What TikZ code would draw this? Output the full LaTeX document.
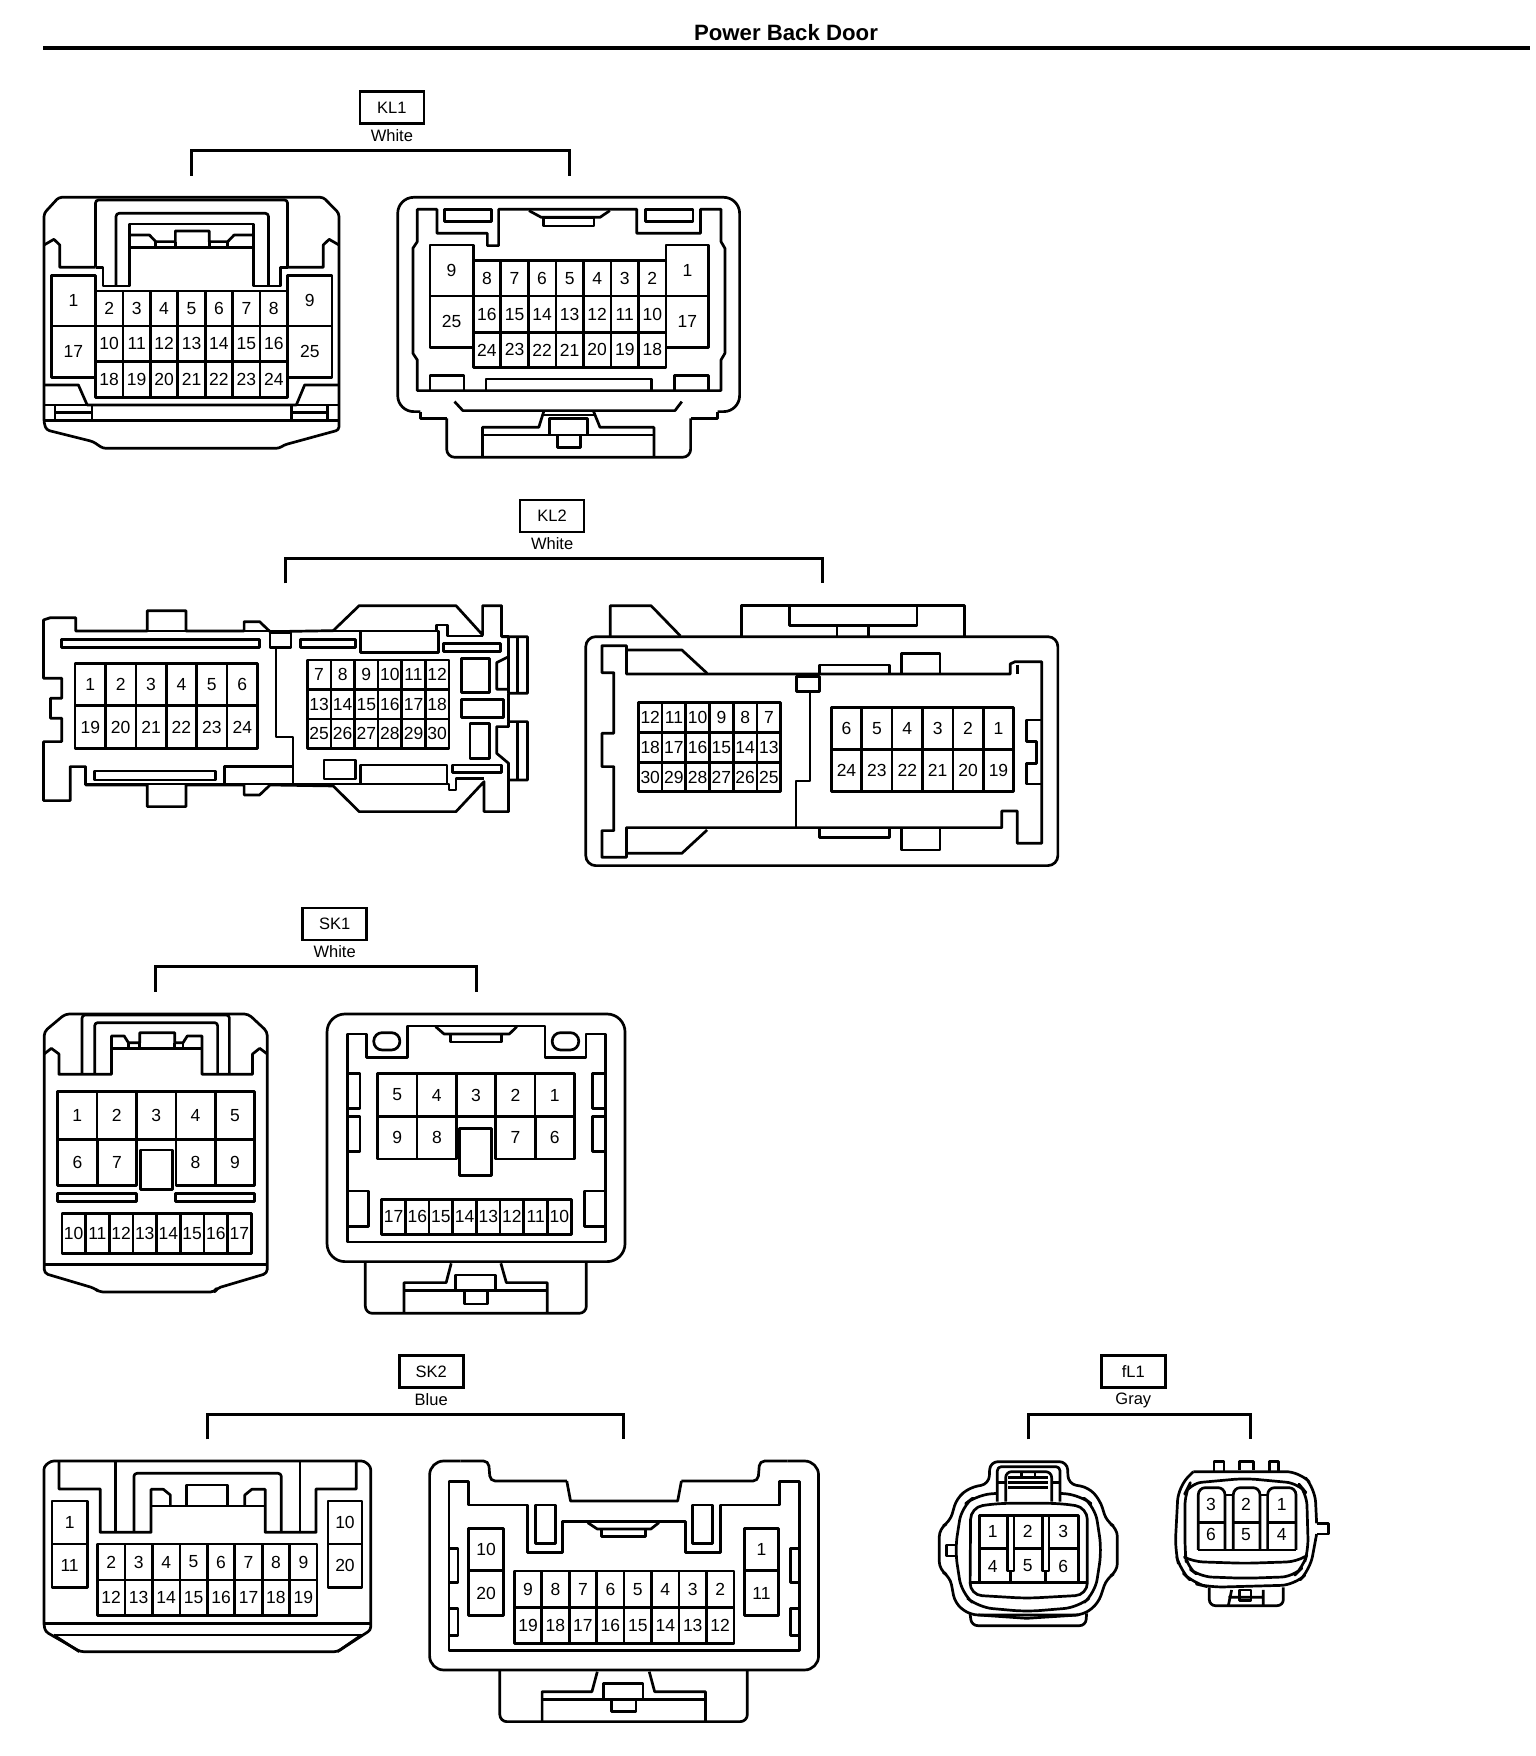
\documentclass[tikz,border=0pt]{standalone}
\usepackage{fontspec}
\setmainfont{Liberation Sans}
\newcount\nc
\tikzset{
 ln/.style={draw=black,line width=2.7pt,line join=round},
 thin1/.style={draw=black,line width=1.7pt,line join=round},
 brk/.style={draw=black,line width=3pt,line join=miter},
 labbox/.style={draw=black,line width=2.6pt,minimum width=64pt,minimum height=32pt,inner sep=0pt,font=\fontsize{16.5}{17}\selectfont},
 capt/.style={inner sep=0pt,font=\fontsize{16.5}{17}\selectfont},
 pinlab/.style={inner sep=0pt,font=\fontsize{17.5}{18}\selectfont},
 zm/.style n args={4}{shift={(#1pt,-#2pt)},x=#3pt,y=-#4pt}
}
\newcommand{\cellrow}[6]{% n x0 x1 y0 y1 list
 \draw[ln] (#2,#4) rectangle (#3,#5);
 \foreach \lbl [count=\i] in {#6} {
  \pgfmathsetmacro\cx{#2+(#3-#2)*(\i-0.5)/#1}
  \pgfmathsetmacro\dx{#2+(#3-#2)*\i/#1}
  \global\advance\nc by 1
  \node[pinlab,name=p\the\nc] at ({\cx},{(#4+#5)/2}) {\lbl};
  \ifnum\i<#1 \draw[ln] ({\dx},#4) -- ({\dx},#5);\fi
 }
}
\begin{document}
\begin{tikzpicture}[x=1pt,y=-1pt]
\useasboundingbox (0,0) rectangle (1536,1756);
\fill[white] (0,0) rectangle (1536,1756);
\node[inner sep=0pt,font=\bfseries\fontsize{22.2}{25}\selectfont] (title) at (786,33) {Power Back Door};
\coordinate (ruleL) at (43,47.5);
\coordinate (ruleR) at (1530,47.5);
\draw[draw=black,line width=4pt] (ruleL) -- (ruleR);

%%%% KL1
\begin{scope}[zm={0}{0}{0.4898}{0.3333}]
\node[labbox] (kl1) at (800,323) {KL1};
\node[capt] (kl1c) at (800,406) {White};
\draw[brk] (390,527) -- (390,452) -- (1162,452) -- (1162,527);
% left
\draw[ln,rounded corners=3pt] (120,592) -- (660,592) -- (692,640) -- (692,1290) -- (580,1335) -- (570,1345) -- (210,1345) -- (190,1325) -- (95,1290) -- (90,1270) -- (90,640) -- cycle;
\draw[ln] (90,735) -- (110,718) -- (122,735) -- (122,802) -- (195,802);
\draw[ln] (692,735) -- (672,718) -- (660,735) -- (660,802) -- (587,802);
\draw[ln,rounded corners=3pt] (195,802) -- (195,600) -- (587,600) -- (587,802);
\draw[ln] (195,802) -- (210,802) -- (210,858) -- (265,858) -- (265,672) -- (518,672) -- (518,858) -- (572,858) -- (572,802) -- (587,802);
\draw[ln,rounded corners=3pt] (237,858) -- (237,640) -- (548,640) -- (548,858);
\draw[ln] (265,705) -- (305,705) -- (318,725) -- (358,725) -- (358,693) -- (427,693) -- (427,725) -- (465,725) -- (478,705) -- (518,705);
\draw[ln] (265,742) -- (518,742) (318,725) -- (318,742) (358,725) -- (358,742) (427,725) -- (427,742) (465,725) -- (465,742);
\cellrow{1}{105}{195}{827}{978}{1}
\cellrow{1}{105}{195}{978}{1132}{17}
\cellrow{1}{587}{678}{827}{978}{9}
\cellrow{1}{587}{678}{978}{1132}{25}
\cellrow{7}{195}{587}{873}{978}{2,3,4,5,6,7,8}
\cellrow{7}{195}{587}{978}{1085}{10,11,12,13,14,15,16}
\cellrow{7}{195}{587}{1085}{1192}{18,19,20,21,22,23,24}
\draw[ln] (90,1155) -- (160,1155) -- (178,1215) -- (605,1215) -- (622,1155) -- (692,1155);
\draw[ln] (90,1215) -- (178,1215) (605,1215) -- (692,1215) (90,1262) -- (692,1262);
\draw[ln] (112,1215) -- (112,1262) (188,1215) -- (188,1262) (112,1238) -- (188,1238);
\draw[ln] (595,1215) -- (595,1262) (668,1215) -- (668,1262) (595,1238) -- (668,1238);
% right
\draw[ln,rounded corners=16pt] (858,1235) -- (812,1235) -- (812,592) -- (1510,592) -- (1510,1235) -- (1465,1235);
\draw[ln] (858,1235) -- (858,1255) -- (912,1255) (1465,1235) -- (1465,1255) -- (1410,1255);
\draw[ln,rounded corners=8pt] (912,1255) -- (912,1372) -- (1410,1372) -- (1410,1255);
\draw[ln] (852,628) -- (892,628) -- (892,700) -- (995,700) -- (995,737) -- (1018,737) -- (1018,628) -- (1300,628) -- (1300,700) -- (1430,700) -- (1430,628) -- (1472,628) -- (1472,725) -- (1480,745) -- (1480,1060) -- (1472,1080) -- (1472,1172) -- (852,1172) -- (852,1080) -- (843,1060) -- (843,745) -- (852,725) -- cycle;
\draw[ln] (907,628) rectangle (1004,665) (1318,628) rectangle (1415,665);
\draw[ln] (1080,632) -- (1105,652) -- (1225,652) -- (1245,632);
\draw[ln] (1110,652) rectangle (1213,678);
\cellrow{1}{878}{966}{735}{888}{9}
\cellrow{1}{878}{966}{888}{1042}{25}
\cellrow{1}{1360}{1447}{735}{888}{1}
\cellrow{1}{1360}{1447}{888}{1042}{17}
\cellrow{7}{966}{1360}{781}{888}{8,7,6,5,4,3,2}
\cellrow{7}{966}{1360}{888}{997}{16,15,14,13,12,11,10}
\cellrow{7}{966}{1360}{997}{1103}{24,23,22,21,20,19,18}
\draw[ln] (878,1172) -- (878,1127) -- (947,1127) -- (947,1172);
\draw[ln] (1377,1172) -- (1377,1127) -- (1447,1127) -- (1447,1172);
\draw[ln] (992,1172) -- (992,1137) -- (1330,1137) -- (1330,1172);
\draw[ln] (928,1205) -- (945,1232) -- (1378,1232) -- (1392,1205);
\draw[ln] (1110,1235) -- (1100,1282) -- (985,1282) -- (985,1372);
\draw[ln] (1212,1235) -- (1225,1282) -- (1335,1282) -- (1335,1372);
\draw[ln] (985,1305) -- (1335,1305) (1110,1245) -- (1212,1245);
\draw[ln] (1122,1305) -- (1122,1255) -- (1200,1255) -- (1200,1305);
\draw[ln] (1138,1305) -- (1138,1342) -- (1185,1342) -- (1185,1305);
\end{scope}

%%%% KL2
\begin{scope}[zm={0}{480}{0.7015}{0.3333}]
\node[labbox] (kl2) at (787,108) {KL2};
\node[capt] (kl2c) at (787,191) {White};
\draw[brk] (407,310) -- (407,235) -- (1173,235) -- (1173,310);
% left
\draw[ln] (62,420) -- (72,413) -- (108,413) -- (108,453) -- (210,453) -- (210,392) -- (265,392) -- (265,453) -- (348,453) -- (348,425) -- (370,425) -- (385,455) -- (475,452) -- (512,377) -- (650,377) -- (688,465) -- (688,377) -- (715,377) -- (715,470) -- (752,470) -- (752,640) -- (725,640) -- (725,725) -- (752,725) -- (752,900) -- (725,900) -- (725,995) -- (690,995) -- (690,905) -- (650,995) -- (512,995) -- (475,918) -- (385,915) -- (370,945) -- (348,945) -- (348,915) -- (265,915) -- (265,980) -- (210,980) -- (210,915) -- (122,915) -- (122,860) -- (100,860) -- (100,962) -- (62,962) -- (62,785) -- (88,785) -- (88,715) -- (72,715) -- (72,655) -- (88,655) -- (88,595) -- (62,595) -- cycle;
\draw[ln] (108,453) -- (622,453) -- (622,435) -- (638,435) -- (638,468) -- (688,468) (715,470) -- (725,470) -- (725,640);
\draw[ln] (88,478) rectangle (370,503) (385,458) rectangle (415,503) (428,478) rectangle (507,503) (514,453) rectangle (625,518) (632,490) rectangle (713,515);
\draw[thin1] (393,503) -- (393,772) -- (418,772) -- (418,912);
\draw[ln] (122,912) -- (640,912) -- (640,930) -- (650,930) -- (650,895) -- (690,895);
\draw[ln] (320,912) -- (320,860) -- (418,860);
\draw[ln] (135,873) rectangle (307,900) (462,840) rectangle (507,897) (514,855) rectangle (637,912) (645,855) rectangle (715,877);
\draw[ln] (658,535) rectangle (698,637) (658,658) rectangle (718,712) (670,730) rectangle (698,835);
\draw[ln] (725,530) -- (708,548) -- (708,628) -- (725,628);
\draw[ln] (725,725) -- (725,740) -- (708,740) -- (708,820) -- (725,850) -- (725,900);
\draw[ln] (738,470) -- (738,640) (738,725) -- (738,900);
\cellrow{6}{107}{367}{550}{677}{1,2,3,4,5,6}
\cellrow{6}{107}{367}{677}{805}{19,20,21,22,23,24}
\cellrow{6}{438}{640}{540}{628}{7,8,9,10,11,12}
\cellrow{6}{438}{640}{628}{717}{13,14,15,16,17,18}
\cellrow{6}{438}{640}{717}{805}{25,26,27,28,29,30}
% right
\draw[ln,rounded corners=10pt] (835,470) rectangle (1508,1157);
\draw[ln] (870,468) -- (870,377) -- (928,377) -- (970,468);
\draw[ln] (1057,468) -- (1057,377) -- (1375,377) -- (1375,468);
\draw[ln] (1125,377) -- (1125,437) -- (1307,437) -- (1307,377) (1193,437) -- (1193,468) (1238,437) -- (1238,468);
\draw[ln] (893,497) -- (893,582) -- (1440,582) -- (1440,552) -- (1447,545) -- (1485,545) -- (1485,1090) -- (1450,1090) -- (1450,993) -- (1428,993) -- (1428,1043) -- (893,1043) -- (893,1132) -- (858,1132) -- (858,1052) -- (875,1052) -- (875,860) -- (858,860) -- (858,760) -- (875,760) -- (875,578) -- (858,578) -- (858,497) -- cycle;
\draw[ln] (893,510) -- (972,510) -- (1008,580);
\draw[ln] (893,1120) -- (972,1120) -- (1008,1050);
\draw[ln] (1168,582) -- (1168,555) -- (1268,555) -- (1268,582);
\draw[ln] (1285,582) -- (1285,520) -- (1340,520) -- (1340,582);
\draw[ln] (1168,1043) -- (1168,1073) -- (1268,1073) -- (1268,1043);
\draw[ln] (1285,1043) -- (1285,1110) -- (1340,1110) -- (1340,1043);
\draw[ln] (1135,590) rectangle (1168,635);
\draw[thin1] (1155,635) -- (1155,903) -- (1135,903) -- (1135,1043);
\draw[ln] (1450,555) -- (1450,582);
\draw[ln] (1485,720) -- (1463,720) -- (1463,785) -- (1478,785) -- (1478,850) -- (1463,850) -- (1463,912) -- (1485,912);
\cellrow{6}{910}{1113}{668}{757}{12,11,10,9,8,7}
\cellrow{6}{910}{1113}{757}{847}{18,17,16,15,14,13}
\cellrow{6}{910}{1113}{847}{935}{30,29,28,27,26,25}
\cellrow{6}{1185}{1445}{682}{808}{6,5,4,3,2,1}
\cellrow{6}{1185}{1445}{808}{935}{24,23,22,21,20,19}
\end{scope}

%%%% SK1
\begin{scope}[zm={0}{900}{0.4209}{0.3333}]
\node[labbox] (sk1) at (795,72) {SK1};
\node[capt] (sk1c) at (795,155) {White};
\draw[brk] (370,275) -- (370,200) -- (1131,200) -- (1131,275);
% left
\draw[ln,rounded corners=4pt] (155,342) -- (590,342) -- (635,395) -- (635,1120) -- (515,1165) -- (510,1176) -- (235,1176) -- (225,1165) -- (105,1120) -- (105,395) -- cycle;
\draw[ln] (105,462) -- (122,445) -- (140,462) -- (140,523) -- (265,523) -- (265,408) -- (295,408) -- (305,428) -- (332,428) -- (332,398) -- (415,398) -- (415,428) -- (435,428) -- (445,408) -- (480,408) -- (480,523) -- (600,523) -- (600,462) -- (617,445) -- (635,462);
\draw[ln,rounded corners=3pt] (195,523) -- (195,345) -- (545,345) -- (545,523);
\draw[ln,rounded corners=3pt] (225,523) -- (225,368) -- (517,368) -- (517,523);
\draw[ln] (265,445) -- (480,445) (305,428) -- (305,445) (332,428) -- (332,445) (415,428) -- (415,445) (435,428) -- (435,445);
\cellrow{5}{137}{605}{575}{718}{1,2,3,4,5}
\cellrow{2}{137}{325}{718}{857}{6,7}
\cellrow{2}{418}{605}{718}{857}{8,9}
\draw[ln] (333,750) rectangle (410,868);
\draw[ln] (137,880) rectangle (325,905) (417,880) rectangle (605,905);
\cellrow{8}{147}{597}{940}{1060}{10,11,12,13,14,15,16,17}
\draw[ln] (105,1093) -- (635,1093);
% right
\draw[ln,rounded corners=18pt] (777,342) rectangle (1485,1085);
\draw[ln] (825,402) -- (870,402) -- (870,472) -- (968,472) -- (968,378) -- (1295,378) -- (1295,472) -- (1392,472) -- (1392,402) -- (1438,402) -- (1438,1026) -- (825,1026) -- cycle;
\draw[ln] (1035,380) -- (1055,402) -- (1210,402) -- (1228,380);
\draw[ln] (1070,402) rectangle (1192,426);
\draw[ln,rounded corners=8.4pt] (888,398) rectangle (950,450) (1312,398) rectangle (1375,450);
\draw[ln] (825,520) rectangle (855,625) (825,650) rectangle (855,755) (1407,520) rectangle (1438,625) (1407,650) rectangle (1438,755) (825,873) rectangle (875,980) (1388,873) rectangle (1438,980);
\cellrow{5}{897}{1365}{520}{650}{5,4,3,2,1}
\cellrow{2}{897}{1085}{650}{777}{9,8}
\cellrow{2}{1178}{1365}{650}{777}{7,6}
\draw[ln,fill=white] (1092,685) rectangle (1168,827);
\cellrow{8}{907}{1357}{898}{1003}{17,16,15,14,13,12,11,10}
\draw[ln,rounded corners=7pt] (868,1085) -- (868,1240) -- (1393,1240) -- (1393,1085);
\draw[ln] (1072,1090) -- (1060,1148) -- (960,1148) -- (960,1240);
\draw[ln] (1190,1090) -- (1203,1148) -- (1300,1148) -- (1300,1240);
\draw[ln] (960,1172) -- (1300,1172);
\draw[ln] (1083,1172) -- (1083,1125) -- (1178,1125) -- (1178,1172);
\draw[ln] (1103,1172) -- (1103,1212) -- (1158,1212) -- (1158,1172);
\end{scope}

%%%% SK2
\begin{scope}[zm={0}{1350}{0.5357}{0.3333}]
\node[labbox] (sk2) at (805,65) {SK2};
\node[capt] (sk2c) at (805,148) {Blue};
\draw[brk] (387,268) -- (387,193) -- (1163,193) -- (1163,268);
% left
\draw[ln,rounded corners=3pt] (95,333) -- (680,333) -- (692,350) -- (692,840) -- (630,905) -- (150,905) -- (85,845) -- (82,825) -- (82,350) -- cycle;
\draw[ln] (110,335) -- (110,417) -- (187,417) -- (187,547) -- (282,547) -- (282,418) -- (305,418) -- (318,435) -- (318,468);
\draw[ln] (665,335) -- (665,417) -- (590,417) -- (590,547) -- (495,547) -- (495,418) -- (470,418) -- (457,435) -- (457,468);
\draw[ln] (215,335) -- (215,547) (560,335) -- (560,547);
\draw[ln,rounded corners=3pt] (250,547) -- (250,370) -- (525,370) -- (525,547);
\draw[ln] (282,468) -- (495,468);
\draw[ln] (348,468) -- (348,405) -- (425,405) -- (425,468);
\cellrow{1}{97}{163}{453}{582}{1}
\cellrow{1}{97}{163}{582}{712}{11}
\cellrow{1}{612}{676}{453}{582}{10}
\cellrow{1}{612}{676}{582}{712}{20}
\cellrow{8}{182}{592}{582}{690}{2,3,4,5,6,7,8,9}
\cellrow{8}{182}{592}{690}{797}{12,13,14,15,16,17,18,19}
\draw[ln] (82,820) -- (692,820) (100,855) -- (675,855);
\draw[ln] (100,855) -- (148,905) (675,855) -- (630,905);
% right
\draw[ln,rounded corners=14pt] (860,333) -- (802,333) -- (802,960) -- (1528,960) -- (1528,333) -- (1470,333);
\draw[ln,rounded corners=5pt] (860,333) -- (912,333) -- (915,393) -- (1058,393);
\draw[ln,rounded corners=5pt] (1470,333) -- (1418,333) -- (1415,393) -- (1272,393);
\draw[ln] (1058,393) -- (1065,453) -- (1265,453) -- (1272,393);
\draw[ln] (838,395) -- (875,395) -- (875,465) -- (985,465) -- (985,607) -- (1050,607) -- (1050,515) -- (1280,515) -- (1280,607) -- (1345,607) -- (1345,465) -- (1455,465) -- (1455,395) -- (1492,395) -- (1492,902) -- (838,902) -- cycle;
\draw[ln] (1000,465) rectangle (1037,580) (1293,465) rectangle (1330,580);
\draw[ln] (1097,518) -- (1115,537) -- (1215,537) -- (1230,518);
\draw[ln] (1123,537) rectangle (1205,560);
\draw[ln] (838,595) rectangle (855,697) (838,775) rectangle (855,857) (1475,595) rectangle (1492,697) (1475,775) rectangle (1492,857);
\cellrow{1}{875}{940}{535}{662}{10}
\cellrow{1}{875}{940}{662}{797}{20}
\cellrow{1}{1390}{1453}{535}{662}{1}
\cellrow{1}{1390}{1453}{662}{797}{11}
\cellrow{8}{960}{1370}{663}{772}{9,8,7,6,5,4,3,2}
\cellrow{8}{960}{1370}{772}{880}{19,18,17,16,15,14,13,12}
\draw[ln,rounded corners=7pt] (933,960) -- (933,1115) -- (1395,1115) -- (1395,960);
\draw[ln] (1115,965) -- (1105,1025) -- (1012,1025) -- (1012,1115);
\draw[ln] (1212,965) -- (1222,1025) -- (1317,1025) -- (1317,1115);
\draw[ln] (1012,1048) -- (1317,1048);
\draw[ln] (1127,1048) -- (1127,1000) -- (1200,1000) -- (1200,1048);
\draw[ln] (1142,1048) -- (1142,1085) -- (1187,1085) -- (1187,1048);
\end{scope}

%%%% fL1
\begin{scope}[zm={920}{1350}{0.3333}{0.3333}]
\node[labbox] (fl1) at (640,65) {fL1};
\node[capt] (fl1c) at (640,150) {Gray};
\draw[brk] (325,268) -- (325,193) -- (993,193) -- (993,268);
% left
\draw[ln,rounded corners=8pt] (210,335) -- (442,335) -- (445,402) -- (505,412) -- (540,450) -- (560,515) -- (592,535) -- (592,665) -- (560,685) -- (535,760) -- (490,795) -- (150,795) -- (105,760) -- (90,680) -- (58,660) -- (58,535) -- (90,515) -- (110,445) -- (150,412) -- (207,402) -- cycle;
\draw[ln,rounded corners=6pt] (150,790) -- (155,827) -- (497,827) -- (500,790);
\draw[ln,rounded corners=2pt] (175,795) -- (320,805) -- (475,795);
\draw[ln,rounded corners=14pt] (232,430) -- (170,435) -- (125,470) -- (105,600) -- (125,730) -- (175,772) -- (320,785) -- (475,772) -- (525,730) -- (545,600) -- (525,470) -- (480,435) -- (420,430);
\draw[ln,rounded corners=12pt] (232,460) -- (152,472) -- (150,735) -- (320,745) -- (502,735) -- (502,472) -- (420,460) -- cycle;
\draw[ln,rounded corners=4pt] (232,455) -- (232,350) -- (420,350) -- (420,455);
\draw[ln] (105,585) -- (80,585) -- (80,618) -- (108,618);
\draw[ln,rounded corners=6pt] (257,455) -- (257,365) -- (395,365) -- (395,455);
\draw[ln] (265,383) -- (385,383) (265,398) -- (385,398) (265,413) -- (385,413) (232,398) -- (257,398) (395,398) -- (420,398) (305,368) -- (305,383) (345,368) -- (345,383);
\draw[ln] (178,697) -- (178,497) -- (475,497) -- (475,697);
\draw[ln] (178,595) -- (475,595);
\draw[ln,fill=white] (262,497) rectangle (282,663) (367,497) rectangle (387,663);
\draw[ln] (272,663) -- (272,697) (377,663) -- (377,697) (148,697) -- (505,697);
\node[pinlab] (fa1) at (218,543) {1};
\node[pinlab] (fa2) at (323,543) {2};
\node[pinlab] (fa3) at (430,543) {3};
\node[pinlab] (fa4) at (218,648) {4};
\node[pinlab] (fa5) at (323,648) {5};
\node[pinlab] (fa6) at (430,648) {6};
% right
\draw[ln] (882,365) -- (882,335) -- (912,335) -- (912,365);
\draw[ln] (958,360) -- (958,335) -- (1000,335) -- (1000,360);
\draw[ln] (1048,365) -- (1048,335) -- (1075,335) -- (1075,365);
\draw[ln,rounded corners=14pt] (820,365) -- (1140,365) -- (1185,415) -- (1190,520);
\draw[ln] (1190,520) -- (1225,520) -- (1225,552) -- (1190,552);
\draw[ln,rounded corners=14pt] (1190,552) -- (1170,660) -- (1125,705) -- (870,712) -- (820,700) -- (780,660) -- (765,600) -- (775,410) -- (820,365);
\draw[ln,rounded corners=12pt] (810,400) -- (975,385) -- (1135,400) -- (1160,430) -- (1165,600) -- (1150,650) -- (1120,680) -- (975,685) -- (840,680) -- (800,650) -- (795,600) -- (795,430) -- cycle;
\draw[ln,rounded corners=10pt] (800,625) -- (820,635) -- (975,640) -- (1130,635) -- (1155,620);
\draw[ln,rounded corners=7pt] (835,600) -- (835,413) -- (915,413) -- (915,600);
\draw[ln,rounded corners=7pt] (940,600) -- (940,413) -- (1020,413) -- (1020,600);
\draw[ln,rounded corners=7pt] (1043,600) -- (1043,413) -- (1128,413) -- (1128,600);
\draw[ln] (835,600) -- (1128,600) (835,518) -- (915,518) (940,518) -- (1020,518) (1043,518) -- (1128,518) (915,435) -- (940,435) (1020,435) -- (1043,435);
\node[pinlab] (fb3) at (873,462) {3};
\node[pinlab] (fb2) at (978,462) {2};
\node[pinlab] (fb1) at (1085,462) {1};
\node[pinlab] (fb6) at (873,553) {6};
\node[pinlab] (fb5) at (978,553) {5};
\node[pinlab] (fb4) at (1085,553) {4};
\draw[ln,rounded corners=6pt] (868,712) -- (868,767) -- (1090,767) -- (1090,712);
\draw[ln] (935,720) -- (925,767) (1030,720) -- (1030,767) (925,742) -- (1030,742);
\draw[ln] (958,720) rectangle (993,752);
\end{scope}
\end{tikzpicture}
\end{document}
